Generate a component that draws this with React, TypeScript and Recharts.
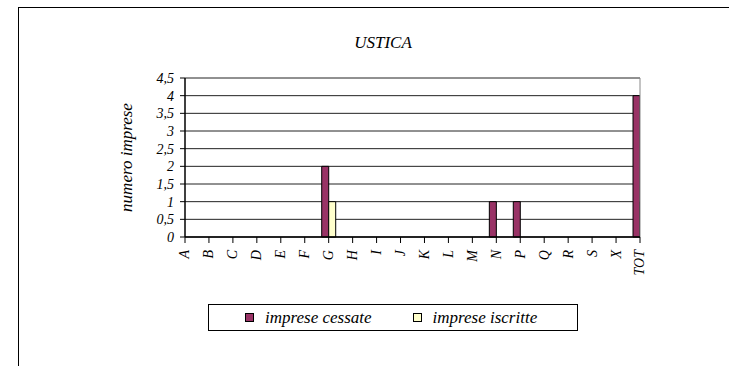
import { BarChart, Bar, XAxis, YAxis, CartesianGrid, ReferenceLine } from "recharts"

const categories = ["A", "B", "C", "D", "E", "F", "G", "H", "I", "J", "K", "L", "M", "N", "P", "Q", "R", "S", "X", "TOT"]
const cessate = [0, 0, 0, 0, 0, 0, 2, 0, 0, 0, 0, 0, 0, 1, 1, 0, 0, 0, 0, 4]
const iscritte = [0, 0, 0, 0, 0, 0, 1, 0, 0, 0, 0, 0, 0, 0, 0, 0, 0, 0, 0, 1]
const yTicks = [0, 0.5, 1, 1.5, 2, 2.5, 3, 3.5, 4, 4.5]

const COLORS = {
  cessate: "#993366",
  iscritte: "#FFFFCC",
}

const FONT = "'Times New Roman', 'Liberation Serif', 'DejaVu Serif', serif"

const data = categories.map((name, i) => ({
  idx: i,
  name,
  cessate: cessate[i],
  iscritte: iscritte[i],
}))

const XTick = (props: any) => {
  const { x, y, payload } = props
  return (
    <g transform={`translate(${x},${y + 5})`}>
      <text
        transform="rotate(-90)"
        textAnchor="end"
        dy="0.32em"
        style={{ fontFamily: FONT, fontStyle: "italic", fontSize: 14 }}
        fill="#000"
      >
        {categories[payload.value]}
      </text>
    </g>
  )
}

const swatch = (color: string, left: number) => (
  <span
    style={{
      display: "inline-block",
      width: 7,
      height: 7,
      marginLeft: left,
      marginRight: 11,
      background: color,
      border: "1px solid #000",
    }}
  />
)

export default function App() {
  return (
    <div style={{ position: "absolute", left: 0, top: 0, width: 729, height: 366, background: "#fff", overflow: "hidden" }}>
      <div
        style={{
          position: "absolute",
          left: 18,
          top: 7,
          width: 720,
          height: 370,
          borderLeft: "1px solid #000",
          borderTop: "1px solid #000",
        }}
      />
      <div
        style={{
          position: "absolute",
          left: 333,
          top: 33,
          width: 100,
          textAlign: "center",
          fontFamily: FONT,
          fontStyle: "italic",
          fontSize: 17,
          lineHeight: "20px",
        }}
      >
        USTICA
      </div>
      <BarChart
        width={729}
        height={366}
        data={data}
        margin={{ top: 78, right: 89, bottom: 99, left: 125 }}
        barGap={0}
        barSize={7}
        style={{ position: "absolute", left: 0, top: 0 }}
      >
        <CartesianGrid vertical={false} stroke="#222" strokeOpacity={1} />
        <ReferenceLine x={19} stroke="#888" />
        <XAxis
          type="number"
          dataKey="idx"
          domain={[0, 19]}
          ticks={categories.map((_, i) => i)}
          interval={0}
          allowDataOverflow
          height={30}
          tick={<XTick />}
          tickSize={6}
          axisLine={{ stroke: "#000", strokeWidth: 1.5 }}
          tickLine={{ stroke: "#000" }}
        />
        <YAxis
          domain={[0, 4.5]}
          ticks={yTicks}
          interval={0}
          width={60}
          tickSize={5}
          tickMargin={6}
          axisLine={{ stroke: "#000", strokeWidth: 1.5 }}
          tickLine={{ stroke: "#000" }}
          tick={{ style: { fontFamily: FONT, fontStyle: "italic", fontSize: 14 }, fill: "#000" }}
          tickFormatter={(v: number) => String(v).replace(".", ",")}
          label={{
            value: "numero imprese",
            angle: -90,
            position: "insideLeft",
            offset: 0,
            dx: 1,
            style: { fontFamily: FONT, fontStyle: "italic", fontSize: 17, fill: "#000", textAnchor: "middle" },
          }}
        />
        <Bar dataKey="cessate" name="imprese cessate" fill={COLORS.cessate} stroke="#000" strokeWidth={1} isAnimationActive={false} />
        <Bar dataKey="iscritte" name="imprese iscritte" fill={COLORS.iscritte} stroke="#000" strokeWidth={1} isAnimationActive={false} />
      </BarChart>
      <div
        style={{
          position: "absolute",
          left: 208,
          top: 304,
          width: 370,
          height: 27,
          border: "1px solid #000",
          boxSizing: "border-box",
          display: "flex",
          alignItems: "center",
          fontFamily: FONT,
          fontStyle: "italic",
          fontSize: 17,
        }}
      >
        {swatch(COLORS.cessate, 36)}
        <span>imprese cessate</span>
        {swatch(COLORS.iscritte, 41)}
        <span>imprese iscritte</span>
      </div>
    </div>
  )
}
